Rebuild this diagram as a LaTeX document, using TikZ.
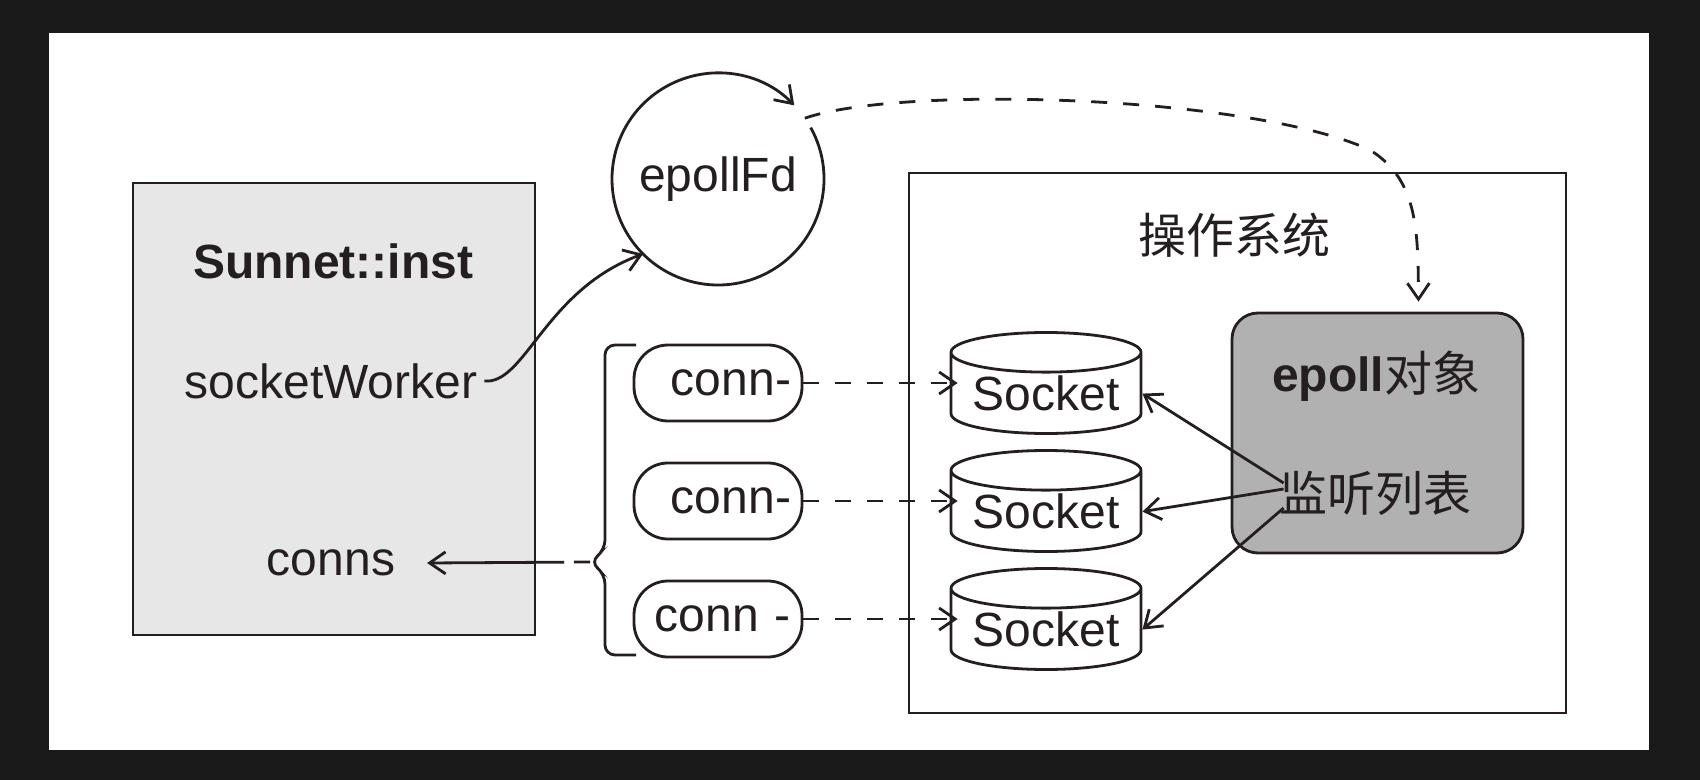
\documentclass[tikz,border=0pt]{standalone}
\usepackage{fontspec}
\setmainfont{Liberation Sans}
\newfontfamily\cjk{Noto Sans CJK SC}
\usetikzlibrary{shapes.geometric,arrows.meta,calc}
\definecolor{framebg}{HTML}{1A1A1A}
\definecolor{ink}{HTML}{231F20}
\definecolor{instfill}{HTML}{E7E7E7}
\definecolor{epollfill}{HTML}{B2B1B2}
\tikzset{
  inkline/.style={draw=ink, line width=1.4pt},
  arrowed/.style={-{Straight Barb[length=8pt,width=11pt]}},
  dashedline/.style={dash pattern=on 8pt off 8pt},
  connbox/.style={inkline, rounded corners=17pt, minimum width=84pt, minimum height=38pt, inner sep=0pt, text width=73pt, align=right},
  sockbox/.style={inkline, cylinder, shape border rotate=90, aspect=0.27, minimum width=95pt, minimum height=50.5pt, inner sep=0pt, anchor=shape center},
}
\begin{document}
\begin{tikzpicture}[x=0.5pt,y=0.5pt,font=\fontsize{24}{29}\selectfont,text=ink]
		\fill[framebg] (0,0) rectangle (1700,-780);
		\fill[white] (49,-33) rectangle (1649,-750);
		% Sunnet::inst
		\node[inkline, fill=instfill, minimum width=201pt, minimum height=226pt] (inst) at (334,-409) {};
		\node[font=\fontsize{24}{29}\selectfont\bfseries] (instname) at (333,-261) {Sunnet::inst};
		\node (sw) at (331,-381) {socketWorker};
		\node (conns) at (331,-563) {conns};
		% epollFd
		\node[circle, minimum size=106pt, inner sep=0pt, outer sep=0pt] (ep) at (718,-179) {epollFd};
		\draw[inkline, arrowed] (ep.29) arc[start angle=29, end angle=-316, radius=53pt];
		\draw[inkline, arrowed] (sw.east) .. controls (525,-385) and (545,-290) .. (ep.225);
		% operating system
		\node[inkline, minimum width=328.5pt, minimum height=270pt] (os) at (1237.5,-443) {};
		\node (ostitle) at (1234,-235) {\cjk 操作系统};
		\node[inkline, fill=epollfill, rounded corners=13pt, minimum width=145.5pt, minimum height=120pt] (epoll) at (1377.5,-433) {};
		\node (epolltitle) at (1376,-376) {\bfseries epoll\mdseries\cjk 对象};
		\node[inner sep=0pt] (lst) at (1375,-493) {\cjk 监听列表};
		\coordinate (drop) at ($(epoll.north)+(41,10)$);
		\draw[inkline, dashedline, arrowed] (ep.35) .. controls (900,-85) and (1250,-95) .. (1370,-150) .. controls (1418,-180) and (1418,-230) .. (drop);
		% conns and sockets
		\foreach \i/\y/\t in {1/383/conn-,2/501/conn-,3/619/conn -}
		{
			\node[connbox] (c\i) at (718,-\y) {\t};
			\node[sockbox] (s\i) at (1046,-\y) {Socket};
			\draw[inkline, dashedline, arrowed] (c\i.east) -- ([xshift=4pt]c\i.east -| s\i.west);
		}
		\draw[inkline, rounded corners=5pt] (636,-345) -- (605,-345) -- (605,-550) -- (590,-562) -- (605,-574) -- (605,-655) -- (636,-655);
		\coordinate (bt) at (590,-562);
		\draw[inkline, arrowed, dash pattern=on 8pt off 5pt on 300pt] (bt) -- ([xshift=12.5pt]conns.east);
		\draw[inkline, arrowed] ($(lst.west)+(5,10)$) -- (s1.east);
		\draw[inkline, arrowed] ($(lst.west)+(5,4)$) -- (s2.east);
		\draw[inkline, arrowed] ($(lst.west)+(5,-15)$) -- (s3.east);
\end{tikzpicture}
\end{document}
